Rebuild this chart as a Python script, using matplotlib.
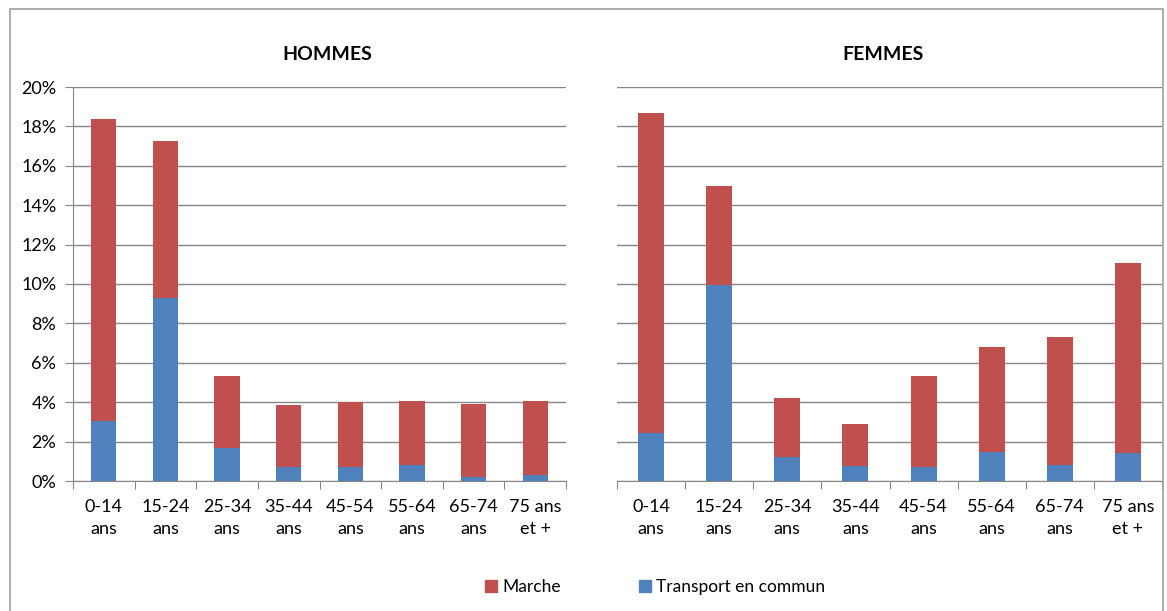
import numpy as np
import matplotlib.pyplot as plt
from matplotlib.patches import Rectangle
from matplotlib.ticker import FuncFormatter

# --------- data ----------
ages = ["0-14\nans", "15-24\nans", "25-34\nans", "35-44\nans",
        "45-54\nans", "55-64\nans", "65-74\nans", "75 ans\net +"]

# share of trips (%), men
hommes_tc = [3.05, 9.3, 1.7, 0.73, 0.73, 0.83, 0.2, 0.3]
hommes_total = [18.4, 17.25, 5.35, 3.85, 4.0, 4.05, 3.9, 4.05]

# share of trips (%), women
femmes_tc = [2.42, 9.95, 1.22, 0.78, 0.69, 1.47, 0.8, 1.4]
femmes_total = [18.7, 14.97, 4.21, 2.87, 5.35, 6.8, 7.3, 11.07]

hommes_marche = [t - b for t, b in zip(hommes_total, hommes_tc)]
femmes_marche = [t - b for t, b in zip(femmes_total, femmes_tc)]

red = "#C0504D"
blue = "#4F81BD"
grey = "#868686"

plt.rcParams['font.family'] = ['Lato', 'DejaVu Sans']

fig = plt.figure(figsize=(11.67, 6.11), dpi=100)
W, H = 1167, 611

# chart border (Excel style)
fig.patches.append(Rectangle((10 / W, -0.05), 1153 / W, 1.05 - 9 / H,
                             transform=fig.transFigure, fill=False,
                             edgecolor="#A0A0A0", linewidth=1.2))


def panel(left_px, right_px, tc, marche, title, title_x, show_y, bw):
    ax = fig.add_axes([left_px / W, 1 - 481 / H, (right_px - left_px) / W, 394 / H])
    x = np.arange(len(ages))
    ax.bar(x, tc, width=bw, color=blue, zorder=3)
    ax.bar(x, marche, bottom=tc, width=bw, color=red, zorder=3)
    ax.set_xlim(-0.5, len(ages) - 0.5)
    ax.set_ylim(0, 20)
    ax.set_yticks(np.arange(0, 21, 2))
    ax.yaxis.set_major_formatter(FuncFormatter(lambda v, p: f"{v:.0f}%"))
    ax.grid(axis='y', color=grey, linewidth=1, zorder=0)
    for s in ['top', 'right']:
        ax.spines[s].set_visible(False)
    ax.spines['bottom'].set_color(grey)
    ax.spines['bottom'].set_zorder(4)
    # category boundary ticks on x
    ax.set_xticks(np.arange(-0.5, len(ages), 1.0))
    ax.set_xticklabels([])
    ax.set_xticks(x, minor=True)
    ax.set_xticklabels(ages, minor=True, fontsize=13, linespacing=1.45)
    ax.tick_params(axis='x', which='major', length=6, color=grey)
    ax.tick_params(axis='x', which='minor', length=0, pad=13)
    if show_y:
        ax.spines['left'].set_color(grey)
        ax.tick_params(axis='y', length=6, color=grey, labelsize=13, pad=6)
    else:
        ax.spines['left'].set_visible(False)
        ax.tick_params(axis='y', length=0, labelleft=False)
    fig.text(title_x / W, 1 - 55 / H, title,
             ha='center', va='center', fontsize=14, fontweight='bold')
    return ax


ax1 = panel(73, 566, hommes_tc, hommes_marche, "HOMMES", 327, True, 0.41)
ax2 = panel(617, 1162, femmes_tc, femmes_marche, "FEMMES", 883, False, 0.38)

# legend
handles = [Rectangle((0, 0), 1, 1, color=red), Rectangle((0, 0), 1, 1, color=blue)]
fig.legend(handles, ["Marche", "Transport en commun"], loc='center',
           bbox_to_anchor=(655 / W, 1 - 587 / H), ncol=2, frameon=False,
           fontsize=12.5, handlelength=0.7, handleheight=0.7,
           handletextpad=0.3, columnspacing=4.5)

fig.savefig("out.png", dpi=100)
